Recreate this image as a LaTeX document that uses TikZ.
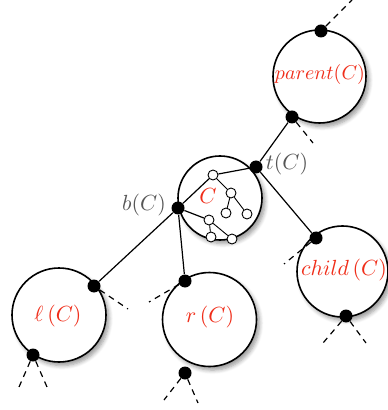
\documentclass[tikz,border=0pt]{standalone}
\usepackage{amsmath, amssymb}
\usepackage{tikz}
\usetikzlibrary{shadows.blur, calc}

\definecolor{labelred}{RGB}{240,45,25}
\definecolor{labelgray}{RGB}{85,85,85}

\begin{document}
\begin{tikzpicture}[x=0.5pt, y=-0.5pt,
    cluster/.style={draw, circle, line width=0.8pt, fill=white, inner sep=0pt, blur shadow={shadow xshift=1.5pt, shadow yshift=-1.8pt, shadow blur steps=6, shadow blur radius=2pt}},
    port/.style={circle, fill=black, inner sep=0pt, minimum size=6.5pt},
    leaf/.style={draw, circle, fill=white, inner sep=0pt, minimum size=5pt, line width=0.45pt},
    link/.style={line width=0.6pt},
    twig/.style={line width=0.45pt},
    stub/.style={line width=0.6pt, dash pattern=on 3pt off 2.5pt},
    clabel/.style={text=labelred, inner sep=0pt, font=\fontsize{10.5}{12}\selectfont},
    tlabel/.style={text=labelgray, inner sep=0pt, font=\fontsize{11.2}{13}\selectfont}
]
\useasboundingbox (0,0) rectangle (387,410);

% Clusters
\node[cluster, minimum size=46.5pt] (parent) at (319.5,76.5) {};
\node[cluster, minimum size=42pt] (clus) at (220,198) {};
\node[cluster, minimum size=45.5pt] (child) at (342.5,271.5) {};
\node[cluster, minimum size=47pt] (left) at (59,315) {};
\node[cluster, minimum size=47pt] (right) at (209.5,319.5) {};

% Labels
\node[clabel, font=\fontsize{9.8}{12}\selectfont] (parentlbl) at (320,75) {$parent(C)$};
\node[clabel] (clbl) at (208,196) {$C$};
\node[clabel] (childlbl) at (344,270) {$child\,(C)$};
\node[clabel] (leftlbl) at (58,316) {$\ell\,(C)$};
\node[clabel] (rightlbl) at (210,317) {$r\,(C)$};
\node[tlabel] (tlbl) at (287,164) {$t(C)$};
\node[tlabel] (blbl) at (144,205) {$b(C)$};

% Small tree inside C
\node[leaf] (root) at (213,175) {};
\node[leaf] (n1) at (231,193) {};
\node[leaf] (n2) at (226,213) {};
\node[leaf] (n3) at (247,214) {};
\node[leaf] (n4) at (209,220) {};
\node[leaf] (n5) at (211,237) {};
\node[leaf] (n6) at (232,239) {};

% Boundary nodes
\node[port] (ptop) at (321,31) {};
\node[port] (pbot) at (292,117) {};
\node[port] (tC) at (256,167) {};
\node[port] (bC) at (178,208) {};
\node[port] (ctop) at (316,238) {};
\node[port] (cbot) at (346,316) {};
\node[port] (ltop) at (94,286) {};
\node[port] (lbot) at (33,355) {};
\node[port] (rtop) at (185,281) {};
\node[port] (rbot) at (185,373) {};

% Free ends of the dashed stubs
\coordinate (ptopend) at (352,0);
\coordinate (pbotend) at (313,143);
\coordinate (ctopend) at (284,264);
\coordinate (cbotl) at (323,343);
\coordinate (cbotr) at (366,343);
\coordinate (ltopend) at (128,309);
\coordinate (lbotl) at (19,387);
\coordinate (lbotr) at (47,387);
\coordinate (rtopend) at (149,302);
\coordinate (rbotl) at (164,400);
\coordinate (rbotr) at (198,403);

% Tree edges
\draw[twig] (root) -- (n1);
\draw[twig] (n1) -- (n2);
\draw[twig] (n1) -- (n3);
\draw[twig] (n4) -- (n5);
\draw[twig] (n4) -- (n6);

% Solid connections
\draw[link] (pbot) -- (tC);
\draw[link] (tC) -- (root);
\draw[link] (bC) -- (root);
\draw[link] (bC) -- (n4);
\draw[link] (tC) -- (ctop);
\draw[link] (bC) -- (ltop);
\draw[link] (bC) -- (rtop);

% Dashed stubs
\draw[stub] (ptop) -- (ptopend);
\draw[stub] (pbot) -- (pbotend);
\draw[stub] (ctop) -- (ctopend);
\draw[stub] (cbot) -- (cbotl);
\draw[stub] (cbot) -- (cbotr);
\draw[stub] (ltop) -- (ltopend);
\draw[stub] (lbot) -- (lbotl);
\draw[stub] (lbot) -- (lbotr);
\draw[stub] (rtop) -- (rtopend);
\draw[stub] (rbot) -- (rbotl);
\draw[stub] (rbot) -- (rbotr);

\end{tikzpicture}
\end{document}
